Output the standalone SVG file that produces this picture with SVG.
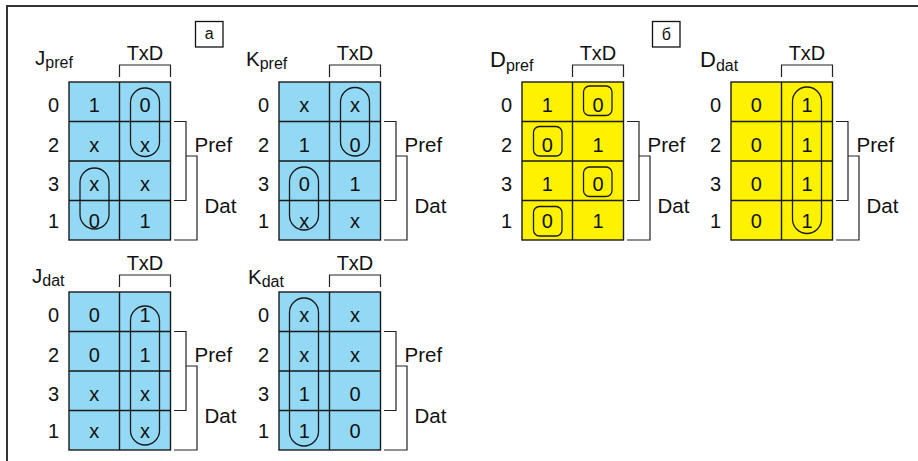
<svg xmlns="http://www.w3.org/2000/svg" width="918" height="461" viewBox="0 0 918 461">
  <style>
    text { font-family: "Liberation Sans", Arial, sans-serif; fill: #111; }
    .v { font-size: 20px; text-anchor: middle; }
    .lbl { font-size: 20.5px; }
    .big { font-size: 22px; }
    .sub { font-size: 16px; }
    .tag { font-size: 16px; text-anchor: middle; }
    .blue { fill: #93d9f5; }
    .yellow { fill: #fff200; }
    .grid { fill: none; stroke: #1a1a1a; stroke-width: 1.4; }
    .brk { fill: none; stroke: #222; stroke-width: 1.2; }
    .loop { fill: none; stroke: #1a1a1a; stroke-width: 1.3; }
    .frame { fill: none; stroke: #333; stroke-width: 2; }
  </style>
  <defs>
    <!-- Karnaugh map skeleton: 2 columns x 4 rows, TxD bracket, Pref/Dat brackets, row codes -->
    <g id="kgrid">
      <rect class="grid" x="0" y="0" width="101.5" height="158"/>
      <path class="grid" d="M0,39.5 H101.5 M0,79 H101.5 M0,118.5 H101.5 M50.5,0 V158"/>
      <path class="brk" d="M50.5,-5 V-17 H101.5 V-5"/>
      <text class="v" x="76" y="-22">TxD</text>
      <path class="brk" d="M105,39.5 H117 V118.5 H105 M117,74 H128 V158 H105"/>
      <text class="lbl" x="125.5" y="70">Pref</text>
      <text class="lbl" x="135.5" y="131">Dat</text>
      <text class="v" x="-15.5" y="30">0</text>
      <text class="v" x="-15.5" y="69.5">2</text>
      <text class="v" x="-15.5" y="109">3</text>
      <text class="v" x="-15.5" y="145.5">1</text>
    </g>
  </defs>

  <!-- outer frame (top and left edges) -->
  <path class="frame" d="M7,461 V6 H918"/>

  <!-- panel tags -->
  <g id="tag-a">
    <rect x="195.5" y="21.5" width="27.5" height="25.5" fill="#fff" stroke="#111" stroke-width="1.3"/>
    <text class="tag" x="209.25" y="39">а</text>
  </g>
  <g id="tag-b">
    <rect x="652.5" y="21.5" width="27.5" height="25.5" fill="#fff" stroke="#111" stroke-width="1.3"/>
    <text class="tag" x="666.25" y="40">б</text>
  </g>

  <!-- J_pref -->
  <g id="map-jpref" transform="translate(69,82)">
    <rect class="blue" x="0" y="0" width="101.5" height="158"/>
    <use href="#kgrid"/>
    <text class="v" x="25.25" y="30">1</text><text class="v" x="76" y="30">0</text>
    <text class="v" x="25.25" y="69.5">x</text><text class="v" x="76" y="69.5">x</text>
    <text class="v" x="25.25" y="109">x</text><text class="v" x="76" y="109">x</text>
    <text class="v" x="25.25" y="145.5">0</text><text class="v" x="76" y="145.5">1</text>
    <rect class="loop" x="61.5" y="6" width="29" height="68.5" rx="14.5"/>
    <rect class="loop" x="11" y="86" width="29" height="61" rx="14.5"/>
    <text class="lbl" x="-34" y="-17">J<tspan class="sub" dy="3">pref</tspan></text>
  </g>

  <!-- K_pref -->
  <g id="map-kpref" transform="translate(279,82)">
    <rect class="blue" x="0" y="0" width="101.5" height="158"/>
    <use href="#kgrid"/>
    <text class="v" x="25.25" y="30">x</text><text class="v" x="76" y="30">x</text>
    <text class="v" x="25.25" y="69.5">1</text><text class="v" x="76" y="69.5">0</text>
    <text class="v" x="25.25" y="109">0</text><text class="v" x="76" y="109">1</text>
    <text class="v" x="25.25" y="145.5">x</text><text class="v" x="76" y="145.5">x</text>
    <rect class="loop" x="61.5" y="5.5" width="29" height="68.5" rx="14.5"/>
    <rect class="loop" x="10.5" y="85" width="29" height="63" rx="14.5"/>
    <text class="lbl" x="-33" y="-16">K<tspan class="sub" dy="3">pref</tspan></text>
  </g>

  <!-- D_pref -->
  <g id="map-dpref" transform="translate(522,82)">
    <rect class="yellow" x="0" y="0" width="101.5" height="158"/>
    <use href="#kgrid"/>
    <text class="v" x="25.25" y="30">1</text><text class="v" x="76" y="30">0</text>
    <text class="v" x="25.25" y="69.5">0</text><text class="v" x="76" y="69.5">1</text>
    <text class="v" x="25.25" y="109">1</text><text class="v" x="76" y="109">0</text>
    <text class="v" x="25.25" y="145.5">0</text><text class="v" x="76" y="145.5">1</text>
    <rect class="loop" x="61.5" y="4" width="28.5" height="29.5" rx="6"/>
    <rect class="loop" x="11.5" y="44.5" width="28.5" height="29.5" rx="6"/>
    <rect class="loop" x="61.5" y="85" width="28.5" height="29.5" rx="6"/>
    <rect class="loop" x="11.5" y="124.5" width="28.5" height="29.5" rx="6"/>
    <text class="big" x="-32" y="-15">D<tspan class="sub" dy="4">pref</tspan></text>
  </g>

  <!-- D_dat -->
  <g id="map-ddat" transform="translate(731,82)">
    <rect class="yellow" x="0" y="0" width="101.5" height="158"/>
    <use href="#kgrid"/>
    <text class="v" x="25.25" y="30">0</text><text class="v" x="76" y="30">1</text>
    <text class="v" x="25.25" y="69.5">0</text><text class="v" x="76" y="69.5">1</text>
    <text class="v" x="25.25" y="109">0</text><text class="v" x="76" y="109">1</text>
    <text class="v" x="25.25" y="145.5">0</text><text class="v" x="76" y="145.5">1</text>
    <rect class="loop" x="61.5" y="5" width="29" height="146.5" rx="14.5"/>
    <text class="big" x="-31" y="-15">D<tspan class="sub" dy="4">dat</tspan></text>
  </g>

  <!-- J_dat -->
  <g id="map-jdat" transform="translate(69,292)">
    <rect class="blue" x="0" y="0" width="101.5" height="158"/>
    <use href="#kgrid"/>
    <text class="v" x="25.25" y="30">0</text><text class="v" x="76" y="30">1</text>
    <text class="v" x="25.25" y="69.5">0</text><text class="v" x="76" y="69.5">1</text>
    <text class="v" x="25.25" y="109">x</text><text class="v" x="76" y="109">x</text>
    <text class="v" x="25.25" y="145.5">x</text><text class="v" x="76" y="145.5">x</text>
    <rect class="loop" x="61.5" y="14" width="29" height="139" rx="14.5"/>
    <text class="lbl" x="-37" y="-9">J<tspan class="sub" dy="3">dat</tspan></text>
  </g>

  <!-- K_dat -->
  <g id="map-kdat" transform="translate(279,292)">
    <rect class="blue" x="0" y="0" width="101.5" height="158"/>
    <use href="#kgrid"/>
    <text class="v" x="25.25" y="30">x</text><text class="v" x="76" y="30">x</text>
    <text class="v" x="25.25" y="69.5">x</text><text class="v" x="76" y="69.5">x</text>
    <text class="v" x="25.25" y="109">1</text><text class="v" x="76" y="109">0</text>
    <text class="v" x="25.25" y="145.5">1</text><text class="v" x="76" y="145.5">0</text>
    <rect class="loop" x="10.5" y="6" width="29" height="148" rx="14.5"/>
    <text class="lbl" x="-31" y="-8">K<tspan class="sub" dy="3">dat</tspan></text>
  </g>

  <!-- no connectors between nodes in this figure -->
  <g id="connectors"/>
</svg>
